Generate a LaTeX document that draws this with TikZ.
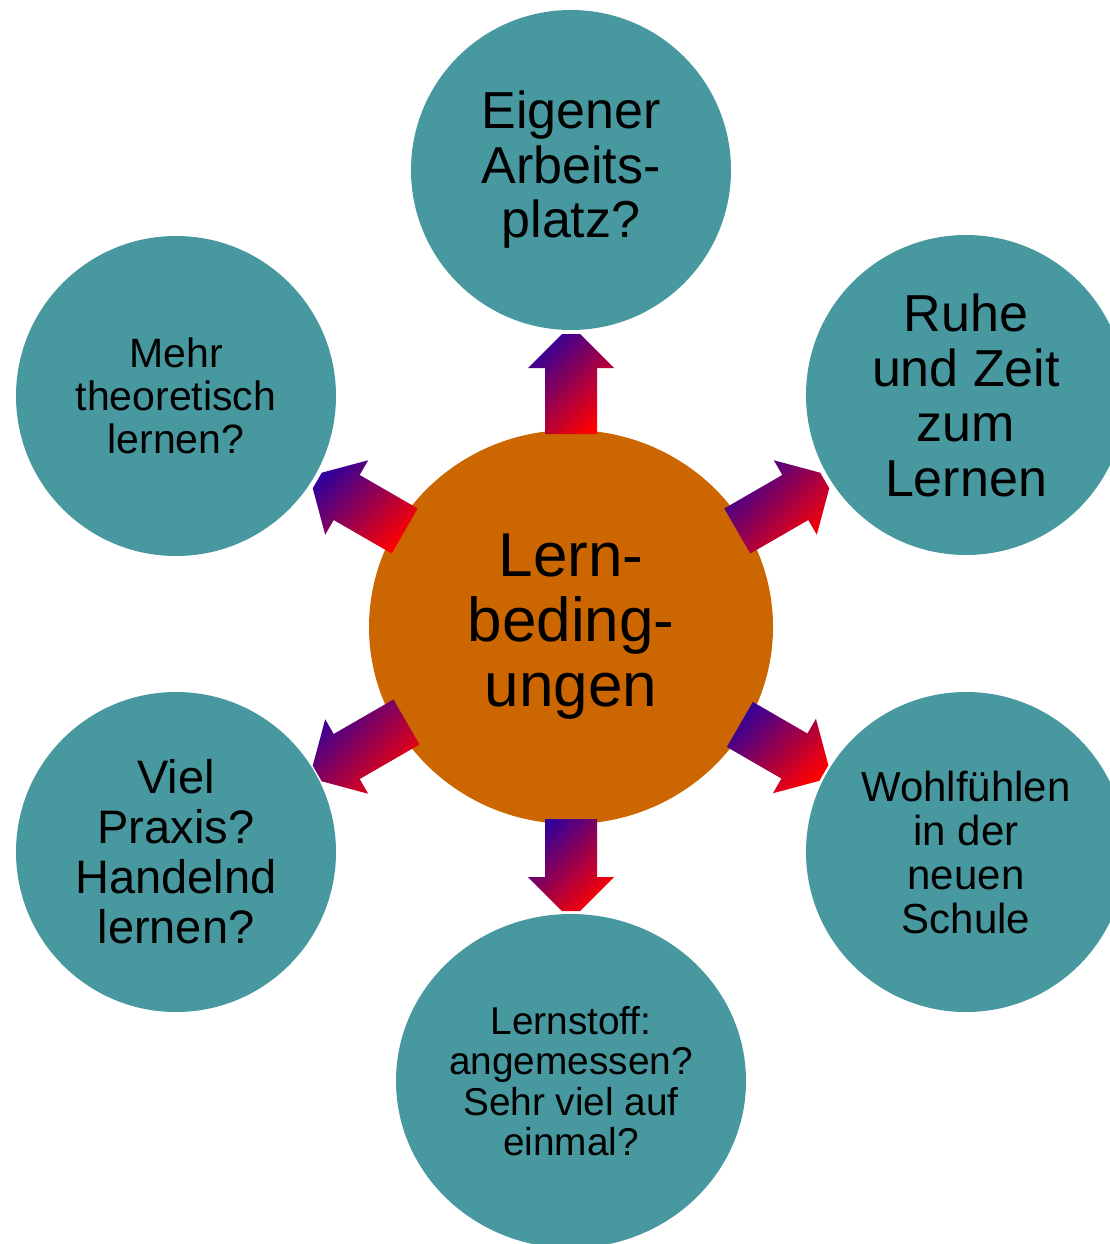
\documentclass[tikz,border=0pt]{standalone}
\usepackage{fontspec}
\setmainfont{Liberation Sans}
\usetikzlibrary{calc,shapes.geometric}
\definecolor{teal1}{HTML}{47989F}
\definecolor{orng}{HTML}{CC6600}
\definecolor{arrblue}{HTML}{330099}
\definecolor{arrmid}{HTML}{960080}
\definecolor{arrred}{HTML}{FF0000}
\newcommand\blockarrow[3]{%
  \pgfmathsetmacro\arrhd{#3-34}%
  \shade[top color=arrblue, middle color=arrmid, bottom color=arrred, shading angle=45]
    ($(c.center)+(#1:#2)+(#1+90:26)$) --
    ($(c.center)+(#1:\arrhd)+(#1+90:26)$) --
    ($(c.center)+(#1:\arrhd)+(#1+90:43)$) --
    ($(c.center)+(#1:#3)+(#1+90:9)$) --
    ($(c.center)+(#1:#3)+(#1-90:9)$) --
    ($(c.center)+(#1:\arrhd)+(#1-90:43)$) --
    ($(c.center)+(#1:\arrhd)+(#1-90:26)$) --
    ($(c.center)+(#1:#2)+(#1-90:26)$) -- cycle;
}
\tikzset{
  bub/.style={circle, fill=teal1, draw=none, inner sep=0pt, align=center, text=black, minimum size=320},
}
\begin{document}
\begin{tikzpicture}[x=1pt,y=1pt]
\useasboundingbox (0,-1244) rectangle (1110,0);
\fill[white] (0,-1244) rectangle (1110,0);
% center
\node[ellipse, fill=orng, inner sep=0pt, align=center, minimum width=404, minimum height=394,
      font=\fontsize{62}{65}\selectfont] (c) at (571,-627) {Lern-\\beding-\\ungen};
% outer bubbles
\node[bub, font=\fontsize{52}{54.5}\selectfont] (t) at (571,-170) {Eigener\\Arbeits-\\platz?};
\node[bub, font=\fontsize{52}{55}\selectfont] (ur) at (966,-395) {Ruhe\\und Zeit\\zum\\Lernen};
\node[bub, font=\fontsize{42}{44}\selectfont] (lr) at (966,-852) {Wohlfühlen\\in der\\neuen\\Schule};
\node[ellipse, fill=teal1, inner sep=0pt, align=center, minimum width=350, minimum height=334,
      font=\fontsize{38.8}{40.5}\selectfont] (b) at (571,-1081) {Lernstoff:\\angemessen?\\Sehr viel auf\\einmal?};
\node[bub, font=\fontsize{47}{50}\selectfont] (ll) at (176,-852) {Viel\\Praxis?\\Handelnd\\lernen?};
\node[bub, font=\fontsize{41}{43.3}\selectfont] (ul) at (176,-396) {Mehr\\theoretisch\\lernen?};
% arrows
\blockarrow{90}{193}{293}
\blockarrow{30}{192}{293}
\blockarrow{-30}{195}{292}
\blockarrow{-90}{192}{284}
\blockarrow{150}{192}{293}
\blockarrow{-150}{190}{293}
\end{tikzpicture}
\end{document}
